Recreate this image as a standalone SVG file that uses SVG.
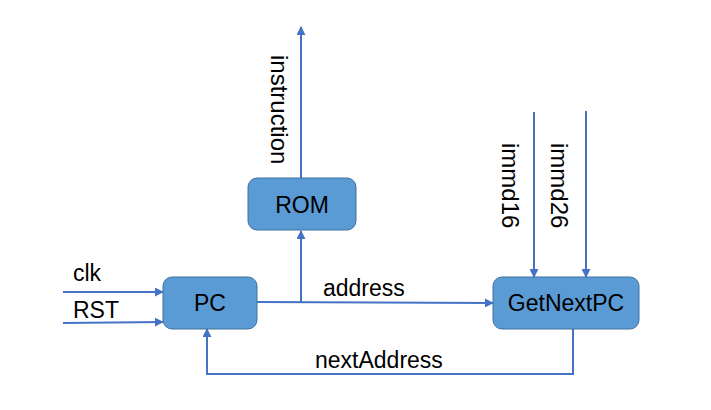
<svg xmlns="http://www.w3.org/2000/svg" width="711" height="410" viewBox="0 0 711 410">
<defs>
<marker id="arr" viewBox="0 0 10 10" refX="9" refY="5" markerWidth="4.5" markerHeight="4.5" orient="auto" markerUnits="strokeWidth">
<path d="M0,0 L10,5 L0,10 z" fill="#4472C4"/>
</marker>
<style>
.box{fill:#5B9BD5;stroke:#41719C;stroke-width:1}
.lbl{font-family:"Liberation Sans",Arial,sans-serif;font-size:23px;fill:#000}
.vl{font-size:24px}
.ln{fill:none;stroke:#4472C4;stroke-width:2}
.ar{fill:none;stroke:#4472C4;stroke-width:2;marker-end:url(#arr)}
</style>
</defs>
<rect width="711" height="410" fill="#fff"/>
<g id="connectors">
<path class="ar" d="M301,178 L301,27"/>
<path class="ar" d="M301,302 L301,231"/>
<path class="ar" d="M257,302 L493,303"/>
<path class="ar" d="M63,292 L163,292"/>
<path class="ar" d="M63,323 L163,322"/>
<path class="ar" d="M534,112 L534,277"/>
<path class="ar" d="M586,111 L586,277"/>
<path class="ar" d="M573,329 L573,374 L207,374 L207,329"/>
</g>
<g id="labels">
<text class="lbl vl" transform="translate(271,55) rotate(90)">instruction</text>
<text class="lbl vl" transform="translate(502,143) rotate(90)">immd16</text>
<text class="lbl vl" transform="translate(551,143) rotate(90)">immd26</text>
<text class="lbl" x="323" y="296">address</text>
<text class="lbl" x="315" y="368">nextAddress</text>
<text class="lbl" x="73" y="281">clk</text>
<text class="lbl" x="73" y="318">RST</text>
</g>
<g id="ROM">
<rect class="box" x="248" y="178" width="108" height="52" rx="9"/>
<text class="lbl" x="302" y="213" text-anchor="middle">ROM</text>
</g>
<g id="PC">
<rect class="box" x="163" y="277" width="94" height="52" rx="9"/>
<text class="lbl" x="210" y="311" text-anchor="middle">PC</text>
</g>
<g id="GetNextPC">
<rect class="box" x="493" y="277" width="146" height="52" rx="9"/>
<text class="lbl" x="566" y="311" text-anchor="middle">GetNextPC</text>
</g>
</svg>
